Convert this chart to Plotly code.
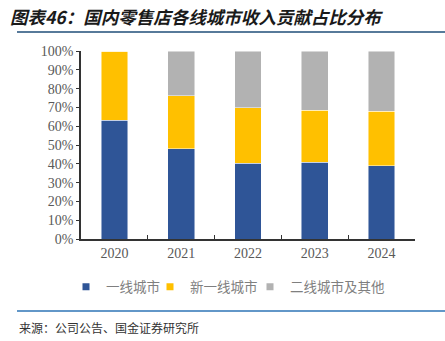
import plotly.graph_objects as go

years = ["2020", "2021", "2022", "2023", "2024"]
tier1 = [63.3, 47.9, 40.3, 40.8, 39.0]
new_tier1 = [36.7, 28.3, 29.6, 27.8, 28.9]
tier2_other = [0.0, 23.8, 30.1, 31.4, 32.1]
series_names = ["一线城市", "新一线城市", "二线城市及其他"]
colors = ["#2F5597", "#FFC000", "#B2B2B2"]
y_ticks = list(range(0, 101, 10))
y_tick_labels = [f"{v}%" for v in y_ticks]

L, R, T, B = 81, 30, 51, 102
W, H = 445, 341
pw, ph = W - L - R, H - T - B

def px(x):
    return (x - L) / pw

def py(y):
    return (H - B - y) / ph

serif = "Liberation Serif, Times New Roman, serif"
cjk = "Noto Sans CJK SC"

legend_ids = ["legend", "legend2", "legend3"]
legend_x = [66, 150, 250]

fig = go.Figure()
for name, vals, col, lid in zip(series_names, [tier1, new_tier1, tier2_other], colors, legend_ids):
    fig.add_trace(go.Bar(
        x=years, y=vals, name=name, width=0.4, showlegend=False,
        marker=dict(color=col, line=dict(color="rgba(255,255,255,0.6)", width=0.8)),
    ))
for name, col, lid in zip(series_names, colors, legend_ids):
    fig.add_trace(go.Scatter(
        x=[None], y=[None], mode="markers", name=name, legend=lid,
        marker=dict(symbol="square", size=7, color=col),
    ))

legend_common = dict(orientation="h", yanchor="middle", y=py(287), xanchor="left",
                     font=dict(family=cjk, size=13.5, color="#7F7F7F"),
                     itemwidth=30, bgcolor="rgba(0,0,0,0)")
layout_legends = {}
for lid, lx in zip(legend_ids, legend_x):
    layout_legends[lid] = dict(legend_common, x=px(lx))

fig.update_layout(
    width=W, height=H,
    margin=dict(l=L, r=R, t=T, b=B),
    barmode="stack",
    plot_bgcolor="white", paper_bgcolor="white",
    showlegend=True,
    xaxis=dict(type="category", showline=True, linecolor="#333333", linewidth=1.5,
               ticks="inside", tickson="boundaries", ticklen=4, tickcolor="#333333",
               tickfont=dict(family=serif, size=14, color="#595959"), showgrid=False),
    yaxis=dict(range=[0, 100], tickvals=y_ticks, ticktext=y_tick_labels,
               showline=True, linecolor="#333333", linewidth=1.5, ticks="outside",
               ticklen=3, tickcolor="#333333", showgrid=False, zeroline=False,
               tickfont=dict(family=serif, size=14, color="#595959")),
    annotations=[
        dict(text="<b><i>图表46：国内零售店各线城市收入贡献占比分布</i></b>",
             xref="paper", yref="paper", x=px(8), y=py(17), xanchor="left", yanchor="middle",
             showarrow=False, font=dict(family=cjk, size=17.5, color="#1A1A1A")),
        dict(text="来源：公司公告、国金证券研究所",
             xref="paper", yref="paper", x=px(17), y=py(327), xanchor="left", yanchor="middle",
             showarrow=False, font=dict(family=cjk, size=12, color="#333333")),
    ],
    shapes=[
        dict(type="line", xref="paper", yref="paper", x0=px(17), x1=px(445), y0=py(32), y1=py(32),
             line=dict(color="#1F4E79", width=1.5)),
        dict(type="line", xref="paper", yref="paper", x0=px(17), x1=px(445), y0=py(311), y1=py(311),
             line=dict(color="#2E75B6", width=1.5)),
    ],
    **layout_legends,
)

fig.write_html("out.html")
